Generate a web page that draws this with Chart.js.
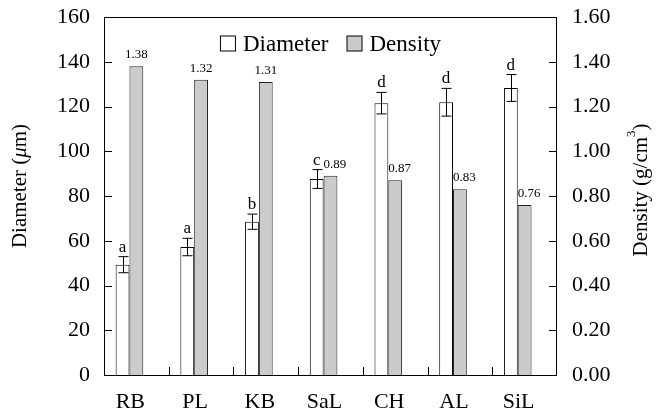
<!DOCTYPE html>
<html>
<head>
<meta charset="utf-8">
<script src="https://cdn.jsdelivr.net/npm/chart.js@4/dist/chart.umd.min.js"></script>
<style>
  html, body { margin: 0; padding: 0; background: #fff; }
  #wrap { width: 659px; height: 413px; }
</style>
</head>
<body>
<div id="wrap"><canvas id="chart" width="659" height="413"></canvas></div>
<script>
const soils = ['RB', 'PL', 'KB', 'SaL', 'CH', 'AL', 'SiL'];
const diameter = [49.3, 57.2, 68.5, 87.6, 121.5, 121.9, 128.3];
const diameterErr = [3.6, 3.9, 3.4, 4.2, 4.8, 6.2, 6.0];
const letters = ['a', 'a', 'b', 'c', 'd', 'd', 'd'];
const density = [1.38, 1.32, 1.31, 0.89, 0.87, 0.83, 0.76];

const serif = '"Liberation Serif", "Times New Roman", serif';

// error bars, letters, density labels, inner ticks, frame, legend, axis titles
const extras = {
    id: 'extras',
    afterDatasetsDraw(chart) {
        const ctx = chart.ctx, area = chart.chartArea;
        const y = chart.scales.y, y1 = chart.scales.y1, x = chart.scales.x;
        const dMeta = chart.getDatasetMeta(0), gMeta = chart.getDatasetMeta(1);
        ctx.save();
        ctx.strokeStyle = '#000';
        ctx.fillStyle = '#000';
        ctx.lineWidth = 1;

        // error bars + letters
        dMeta.data.forEach((bar, i) => {
            const cx = Math.round(bar.x) + 0.5;
            const top = y.getPixelForValue(diameter[i] + diameterErr[i]);
            const bot = y.getPixelForValue(diameter[i] - diameterErr[i]);
            ctx.beginPath();
            ctx.moveTo(cx, top); ctx.lineTo(cx, bot);
            ctx.moveTo(cx - 5, top); ctx.lineTo(cx + 5, top);
            ctx.moveTo(cx - 5, bot); ctx.lineTo(cx + 5, bot);
            ctx.stroke();
            ctx.font = '17px ' + serif;
            ctx.textAlign = 'center';
            ctx.textBaseline = 'alphabetic';
            ctx.fillText(letters[i], bar.x, top - 5);
        });

        // density value labels
        ctx.font = '13px ' + serif;
        gMeta.data.forEach((bar, i) => {
            const errTop = y.getPixelForValue(diameter[i] + diameterErr[i]);
            if (bar.y > errTop - 20) {
                ctx.textAlign = 'left';
                ctx.fillText(density[i].toFixed(2), bar.x - bar.width / 2, bar.y - 8);
            } else {
                ctx.textAlign = 'center';
                ctx.fillText(density[i].toFixed(2), bar.x, bar.y - 8);
            }
        });

        // frame
        ctx.strokeRect(area.left + 0.5, area.top + 0.5, area.right - area.left - 1, area.bottom - area.top);

        // inward ticks
        ctx.beginPath();
        y.ticks.forEach(t => {
            const py = Math.round(y.getPixelForValue(t.value)) + 0.5;
            ctx.moveTo(area.left, py); ctx.lineTo(area.left + 8, py);
        });
        y1.ticks.forEach(t => {
            const py = Math.round(y1.getPixelForValue(t.value)) + 0.5;
            ctx.moveTo(area.right - 8, py); ctx.lineTo(area.right, py);
        });
        for (let i = 0; i < soils.length - 1; i++) {
            const px = Math.round((x.getPixelForTick(i) + x.getPixelForTick(i + 1)) / 2) + 0.5;
            ctx.moveTo(px, area.bottom); ctx.lineTo(px, area.bottom - 8);
        }
        ctx.stroke();

        // legend inside plot
        ctx.font = '23px ' + serif;
        ctx.textAlign = 'left';
        ctx.textBaseline = 'middle';
        const items = chart.data.datasets.filter(d => d.label);
        const box = 15, gap = 8, space = 18;
        const widths = items.map(d => box + gap + ctx.measureText(d.label).width);
        const total = widths.reduce((a, b) => a + b, 0) + space * (items.length - 1);
        let lx = (area.left + area.right) / 2 - total / 2;
        const ly = area.top + 26;
        items.forEach((d, i) => {
            ctx.fillStyle = d.backgroundColor;
            ctx.fillRect(lx + 0.5, ly - box / 2 + 0.5, box, box);
            ctx.strokeStyle = '#000';
            ctx.strokeRect(lx + 0.5, ly - box / 2 + 0.5, box, box);
            ctx.fillStyle = '#000';
            ctx.fillText(d.label, lx + box + gap, ly + 2);
            lx += widths[i] + space;
        });

        // axis titles
        const midY = (area.top + area.bottom) / 2;
        ctx.textBaseline = 'middle';
        // left: Diameter (μm), μ italic
        ctx.save();
        ctx.translate(20, midY - 10);
        ctx.rotate(-Math.PI / 2);
        const parts = [['Diameter (', ''], ['\u03bc', 'italic '], ['m)', '']];
        let w = 0;
        parts.forEach(p => { ctx.font = p[1] + '21px ' + serif; w += ctx.measureText(p[0]).width; });
        let tx = -w / 2;
        parts.forEach(p => {
            ctx.font = p[1] + '21px ' + serif;
            ctx.fillText(p[0], tx, 0);
            tx += ctx.measureText(p[0]).width;
        });
        ctx.restore();
        // right: Density (g/cm3)
        ctx.save();
        ctx.translate(641, midY - 6);
        ctx.rotate(-Math.PI / 2);
        const a = 'Density (g/cm', b = ')';
        ctx.font = '13px ' + serif;
        const sw = ctx.measureText('3').width;
        ctx.font = '21px ' + serif;
        const aw = ctx.measureText(a).width, bw = ctx.measureText(b).width;
        tx = -(aw + sw + bw) / 2;
        ctx.fillText(a, tx, 0);
        ctx.font = '13px ' + serif;
        ctx.fillText('3', tx + aw, -9);
        ctx.font = '21px ' + serif;
        ctx.fillText(b, tx + aw + sw, 0);
        ctx.restore();

        ctx.restore();
    }
};

const fitY = w => s => { s.width = w; s.paddingTop = 0; s.paddingBottom = 0; };

new Chart(document.getElementById('chart'), {
    type: 'bar',
    data: {
        labels: soils,
        datasets: [{
            label: 'Diameter',
            data: diameter,
            yAxisID: 'y',
            backgroundColor: '#ffffff',
            borderColor: '#000000',
            borderWidth: 1
        }, {
            label: 'Density',
            data: density,
            yAxisID: 'y1',
            backgroundColor: '#cbcbcb',
            borderColor: '#222222',
            borderWidth: 1
        }, {
            // empty spacer so the pair sits left of the category centre
            label: '',
            data: [],
            yAxisID: 'y'
        }]
    },
    options: {
        responsive: false,
        animation: false,
        layout: { padding: { top: 17, left: 0, right: 0, bottom: 0 } },
        datasets: { bar: { categoryPercentage: 0.64, barPercentage: 1.0 } },
        plugins: { legend: { display: false }, tooltip: { enabled: false } },
        scales: {
            x: {
                grid: { display: false, drawTicks: false },
                border: { display: false },
                ticks: { color: '#000', font: { family: serif, size: 22 }, padding: 14, labelOffset: -6 },
                afterFit: s => { s.height = 38; s.paddingLeft = 0; s.paddingRight = 0; }
            },
            y: {
                position: 'left',
                min: 0, max: 160,
                grid: { display: false, drawTicks: false },
                border: { display: false },
                ticks: { stepSize: 20, color: '#000', font: { family: serif, size: 22 }, padding: 14 },
                afterFit: fitY(104)
            },
            y1: {
                position: 'right',
                min: 0, max: 1.6,
                grid: { display: false, drawTicks: false },
                border: { display: false },
                ticks: { stepSize: 0.2, color: '#000', font: { family: serif, size: 22 }, padding: 15,
                    callback: v => Number(v).toFixed(2) },
                afterFit: fitY(102)
            }
        }
    },
    plugins: [extras]
});
</script>
</body>
</html>
